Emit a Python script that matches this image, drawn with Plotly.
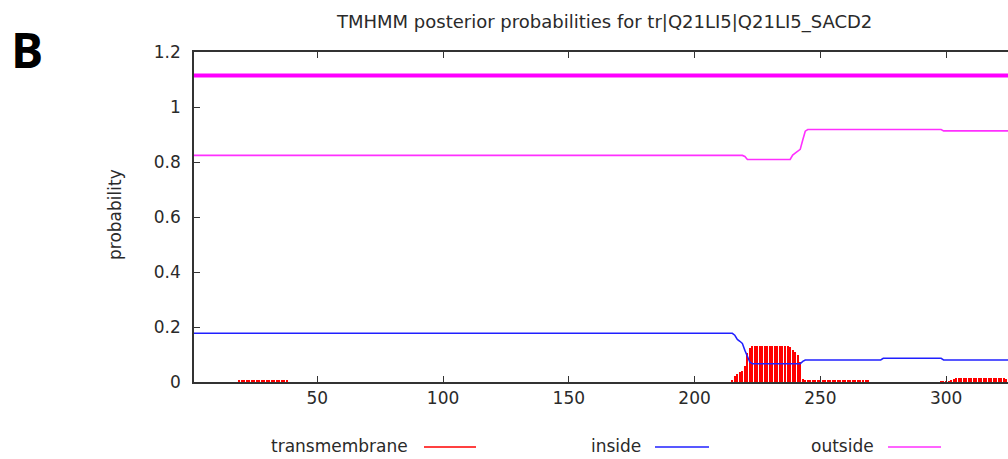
import plotly.graph_objects as go

# ---------------- data ----------------
seq_end = 330  # sequence extends beyond visible window

# predicted topology (thick line at top): whole sequence "outside"
topology_x = [1, seq_end]
topology_y = [1.115, 1.115]

# inside probability (line vertices)
inside_x = [1, 215, 216, 217, 218, 219, 220, 221, 222, 223, 242, 243, 244, 274, 275, 298, 299, seq_end]
inside_y = [0.177, 0.177, 0.17, 0.155, 0.148, 0.14, 0.115, 0.09, 0.072, 0.066, 0.066, 0.075, 0.08, 0.08, 0.086, 0.086, 0.08, 0.08]

# outside probability (line vertices)
outside_x = [1, 219, 220, 221, 238, 239, 240, 241, 242, 243, 244, 245, 298, 299, seq_end]
outside_y = [0.824, 0.824, 0.82, 0.809, 0.809, 0.825, 0.832, 0.838, 0.846, 0.88, 0.912, 0.918, 0.918, 0.913, 0.913]

# transmembrane probability per residue (non-zero residues)
tm_x = (list(range(19, 39)) + list(range(215, 270)) + list(range(298, 325)))
tm_y = [
    # 19-38
    0.005, 0.005, 0.005, 0.005, 0.005, 0.005, 0.005, 0.005, 0.005, 0.005,
    0.005, 0.005, 0.005, 0.005, 0.005, 0.005, 0.005, 0.005, 0.005, 0.005,
    # 215-243
    0.007, 0.022, 0.03, 0.036, 0.04, 0.06, 0.105, 0.125, 0.131, 0.132,
    0.132, 0.132, 0.132, 0.132, 0.132, 0.132, 0.132, 0.132, 0.132, 0.132,
    0.132, 0.132, 0.131, 0.128, 0.118, 0.108, 0.1, 0.072, 0.01,
    # 244-269
    0.005, 0.004, 0.004, 0.004, 0.004, 0.004, 0.004, 0.004, 0.004, 0.004,
    0.004, 0.004, 0.004, 0.004, 0.004, 0.004, 0.004, 0.004, 0.004, 0.004,
    0.004, 0.004, 0.004, 0.004, 0.004, 0.004,
    # 298-324
    0.003, 0.003, 0.003, 0.003, 0.006, 0.01, 0.013, 0.015, 0.015, 0.015,
    0.015, 0.015, 0.015, 0.015, 0.015, 0.015, 0.015, 0.015, 0.015, 0.015,
    0.015, 0.015, 0.015, 0.015, 0.015, 0.013, 0.012,
]

x_ticks = [50, 100, 150, 200, 250, 300]
y_ticks = [0, 0.2, 0.4, 0.6, 0.8, 1.0, 1.2]
title_text = "TMHMM posterior probabilities for tr|Q21LI5|Q21LI5_SACD2"
legend_names = ["transmembrane", "inside", "outside"]
colors = {"transmembrane": "#ff0000", "inside": "#2020ff", "outside": "#ff30ff", "topology": "#ff00ff"}

# ---------------- figure ----------------
W, H = 1008, 459
ML, MR, MT, MB = 194, 0, 52, 77
PW, PH = W - ML - MR, H - MT - MB

def px_x(px):
    return (px - ML) / PW

def px_y(py):
    return (H - MB - py) / PH

fig = go.Figure()
fig.add_trace(go.Bar(x=tm_x, y=tm_y, width=0.5, marker_color=colors["transmembrane"],
                     marker_line_width=0, name="transmembrane", showlegend=False))
fig.add_trace(go.Scatter(x=inside_x, y=inside_y, mode="lines",
                         line=dict(color=colors["inside"], width=1.5), showlegend=False))
fig.add_trace(go.Scatter(x=outside_x, y=outside_y, mode="lines",
                         line=dict(color=colors["outside"], width=1.6), showlegend=False))
fig.add_trace(go.Scatter(x=topology_x, y=topology_y, mode="lines",
                         line=dict(color=colors["topology"], width=4), showlegend=False))

font = dict(family="DejaVu Sans, Verdana, sans-serif", size=17, color="#2a2a2a")
title_font = dict(family="DejaVu Sans, Verdana, sans-serif", size=18, color="#2a2a2a")

fig.update_layout(
    width=W, height=H,
    margin=dict(l=ML, r=MR, t=MT, b=MB, pad=0),
    paper_bgcolor="white", plot_bgcolor="white",
    font=font, showlegend=False, bargap=0,
    xaxis=dict(range=[1, 324.6], tickvals=x_ticks, ticks="inside", ticklen=6, tickwidth=1.2,
               tickcolor="#333", showline=True, linecolor="#333", linewidth=1.5,
               mirror="ticks", showgrid=False, zeroline=False, ticklabelstandoff=0,
               tickfont=font),
    yaxis=dict(range=[0, 1.2], tickvals=y_ticks, ticks="inside", ticklen=6, tickwidth=1.2,
               tickcolor="#333", showline=True, linecolor="#333", linewidth=1.5,
               mirror=False, showgrid=False, zeroline=False, ticklabelstandoff=8,
               tickfont=font),
)

annotations = [
    dict(text=title_text, x=px_x(603.5), y=px_y(22), xref="paper", yref="paper",
         xanchor="center", yanchor="middle", showarrow=False, font=title_font),
    dict(text="probability", x=px_x(115), y=px_y(215), xref="paper", yref="paper",
         xanchor="center", yanchor="middle", textangle=-90, showarrow=False, font=font),
    dict(text="<b>B</b>", x=px_x(27), y=px_y(49), xref="paper", yref="paper",
         xanchor="center", yanchor="middle", showarrow=False,
         font=dict(family="Open Sans, Noto Sans, sans-serif", size=48, color="black")),
]
legend_text_right = [410, 643, 876]
legend_line = [(424, 476), (655, 709), (888, 941)]
shapes = []
for name, tr, (x0, x1) in zip(legend_names, legend_text_right, legend_line):
    annotations.append(dict(text=name, x=px_x(tr), y=px_y(446), xref="paper", yref="paper",
                            xanchor="right", yanchor="middle", showarrow=False, font=font))
    shapes.append(dict(type="line", xref="paper", yref="paper", x0=px_x(x0), x1=px_x(x1),
                       y0=px_y(447), y1=px_y(447), line=dict(color=colors[name], width=1.3)))
fig.update_layout(annotations=annotations, shapes=shapes)

fig.write_html("out.html")
